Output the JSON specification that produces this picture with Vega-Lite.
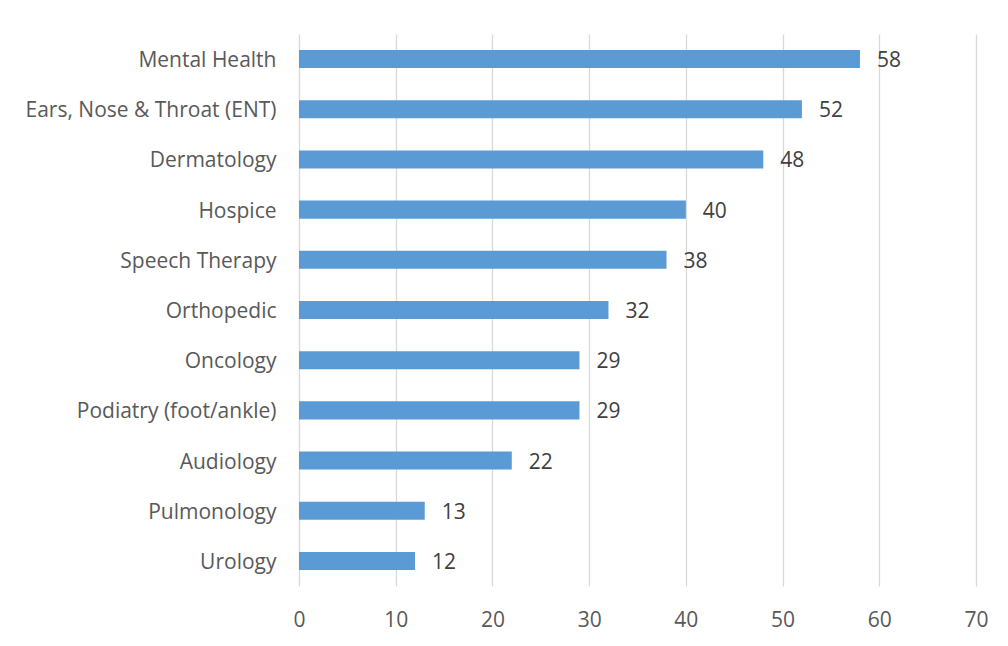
{
  "$schema": "https://vega.github.io/schema/vega-lite/v6.json",
  "autosize": "none",
  "width": 677,
  "height": 552,
  "padding": {"left": 299, "top": 34, "right": 32, "bottom": 60},
  "background": "white",
  "config": {"view": {"stroke": null}, "font": "Open Sans"},
  "data": {"values": [
    {"category": "Mental Health", "value": 58},
    {"category": "Ears, Nose & Throat (ENT)", "value": 52},
    {"category": "Dermatology", "value": 48},
    {"category": "Hospice", "value": 40},
    {"category": "Speech Therapy", "value": 38},
    {"category": "Orthopedic", "value": 32},
    {"category": "Oncology", "value": 29},
    {"category": "Podiatry (foot/ankle)", "value": 29},
    {"category": "Audiology", "value": 22},
    {"category": "Pulmonology", "value": 13},
    {"category": "Urology", "value": 12}
  ]},
  "encoding": {
    "y": {"field": "category", "type": "nominal", "sort": null,
      "scale": {"paddingInner": 0.64, "paddingOuter": 0.32},
      "axis": {"title": null, "domain": false, "ticks": false, "labelPadding": 23, "labelOffset": 2, "labelFontSize": 21, "labelColor": "#595959", "labelFont": "Open Sans", "labelLimit": 400}},
    "x": {"field": "value", "type": "quantitative",
      "scale": {"domain": [0, 70], "nice": false},
      "axis": {"title": null, "domain": false, "ticks": false, "values": [0,10,20,30,40,50,60,70], "gridColor": "#D9D9D9", "gridWidth": 1.3, "labelPadding": 23, "labelFontSize": 21, "labelColor": "#595959", "labelFont": "Open Sans", "labelFlush": false}}
  },
  "layer": [
    {"mark": {"type": "bar", "color": "#5B9BD5"}},
    {"mark": {"type": "text", "align": "left", "baseline": "middle", "dx": 17, "dy": 2, "fontSize": 21, "color": "#404040", "font": "Open Sans"},
     "encoding": {"text": {"field": "value", "type": "quantitative"}}}
  ]
}
